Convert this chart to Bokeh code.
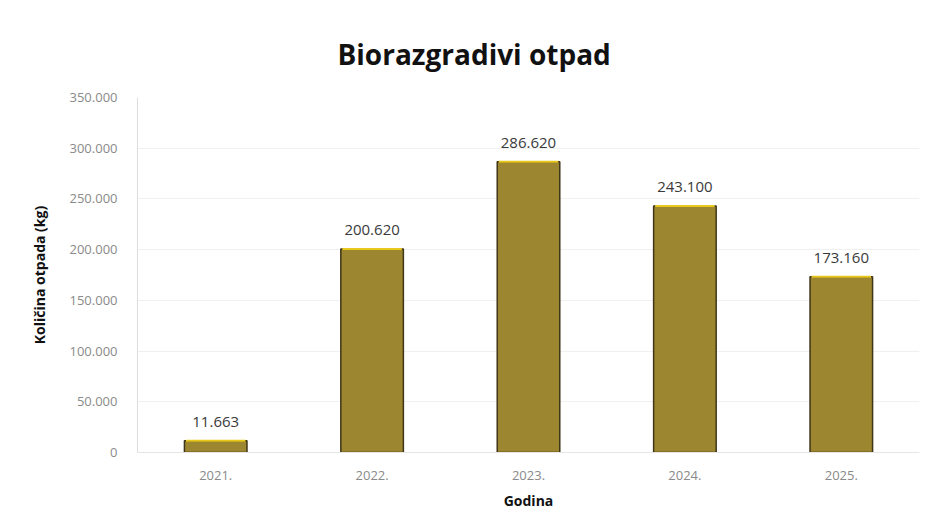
from bokeh.plotting import figure
from bokeh.models import ColumnDataSource, FixedTicker, Title, LabelSet, Range1d
from bokeh.core.properties import value
from bokeh.embed import file_html
from bokeh.resources import INLINE

years = ["2021.", "2022.", "2023.", "2024.", "2025."]
values = [11663, 200620, 286620, 243100, 173160]
value_labels = ["11.663", "200.620", "286.620", "243.100", "173.160"]
y_ticks = [0, 50000, 100000, 150000, 200000, 250000, 300000, 350000]
y_tick_labels = ["0", "50.000", "100.000", "150.000", "200.000", "250.000", "300.000", "350.000"]

FONT = "Open Sans"

src = ColumnDataSource(dict(x=years, top=values, lab=value_labels))

p = figure(x_range=years, y_range=Range1d(0, 350000), width=922, height=512,
           output_backend="svg", toolbar_location=None,
           min_border_left=137, min_border_right=3, min_border_top=97, min_border_bottom=60)
p.outline_line_color = None
p.background_fill_color = "white"

p.vbar(x="x", top="top", width=0.4, source=src, fill_color="#9c8630",
       line_color="#3f3518", line_width=1.5)
p.segment(x0=[(y, -0.19) for y in years], x1=[(y, 0.19) for y in years],
          y0=values, y1=values, line_color="#e8c81c", line_width=2)

labels = LabelSet(x="x", y="top", text="lab", source=src, text_align="center",
                  text_baseline="bottom", y_offset=14, text_font_size="15px",
                  text_color="#3a3a3a", text_font=value(FONT))
p.add_layout(labels)

t = Title(text="Biorazgradivi otpad", align="left", offset=200, standoff=50,
          text_font_size="28px", text_font_style="bold", text_font=FONT,
          text_color="#111111")
p.add_layout(t, "above")

p.yaxis.ticker = FixedTicker(ticks=y_ticks)
p.yaxis.major_label_overrides = {v: l for v, l in zip(y_ticks, y_tick_labels)}
p.yaxis.axis_label = "Količina otpada (kg)"
p.yaxis.axis_label_text_font = FONT
p.yaxis.axis_label_text_font_style = "bold"
p.yaxis.axis_label_text_font_size = "14px"
p.yaxis.axis_label_text_color = "#111111"
p.yaxis.axis_label_standoff = 17
p.yaxis.major_label_text_font = FONT
p.yaxis.major_label_text_font_size = "13px"
p.yaxis.major_label_text_color = "#8a8a8a"
p.yaxis.axis_line_color = "#dddddd"
p.yaxis.major_tick_line_color = None
p.yaxis.minor_tick_line_color = None
p.yaxis.major_label_standoff = 14

p.xaxis.axis_label = "Godina"
p.xaxis.axis_label_text_font = FONT
p.xaxis.axis_label_text_font_style = "bold"
p.xaxis.axis_label_text_font_size = "14px"
p.xaxis.axis_label_text_color = "#111111"
p.xaxis.axis_label_standoff = 8
p.xaxis.major_label_text_font = FONT
p.xaxis.major_label_text_font_size = "13px"
p.xaxis.major_label_text_color = "#8a8a8a"
p.xaxis.axis_line_color = "#e6e6e6"
p.xaxis.major_tick_line_color = None
p.xaxis.major_label_standoff = 12

p.xgrid.grid_line_color = None
p.ygrid.grid_line_color = "#f0f0f0"
p.x_range.range_padding = 0

open("out.html", "w").write(file_html(p, INLINE))
